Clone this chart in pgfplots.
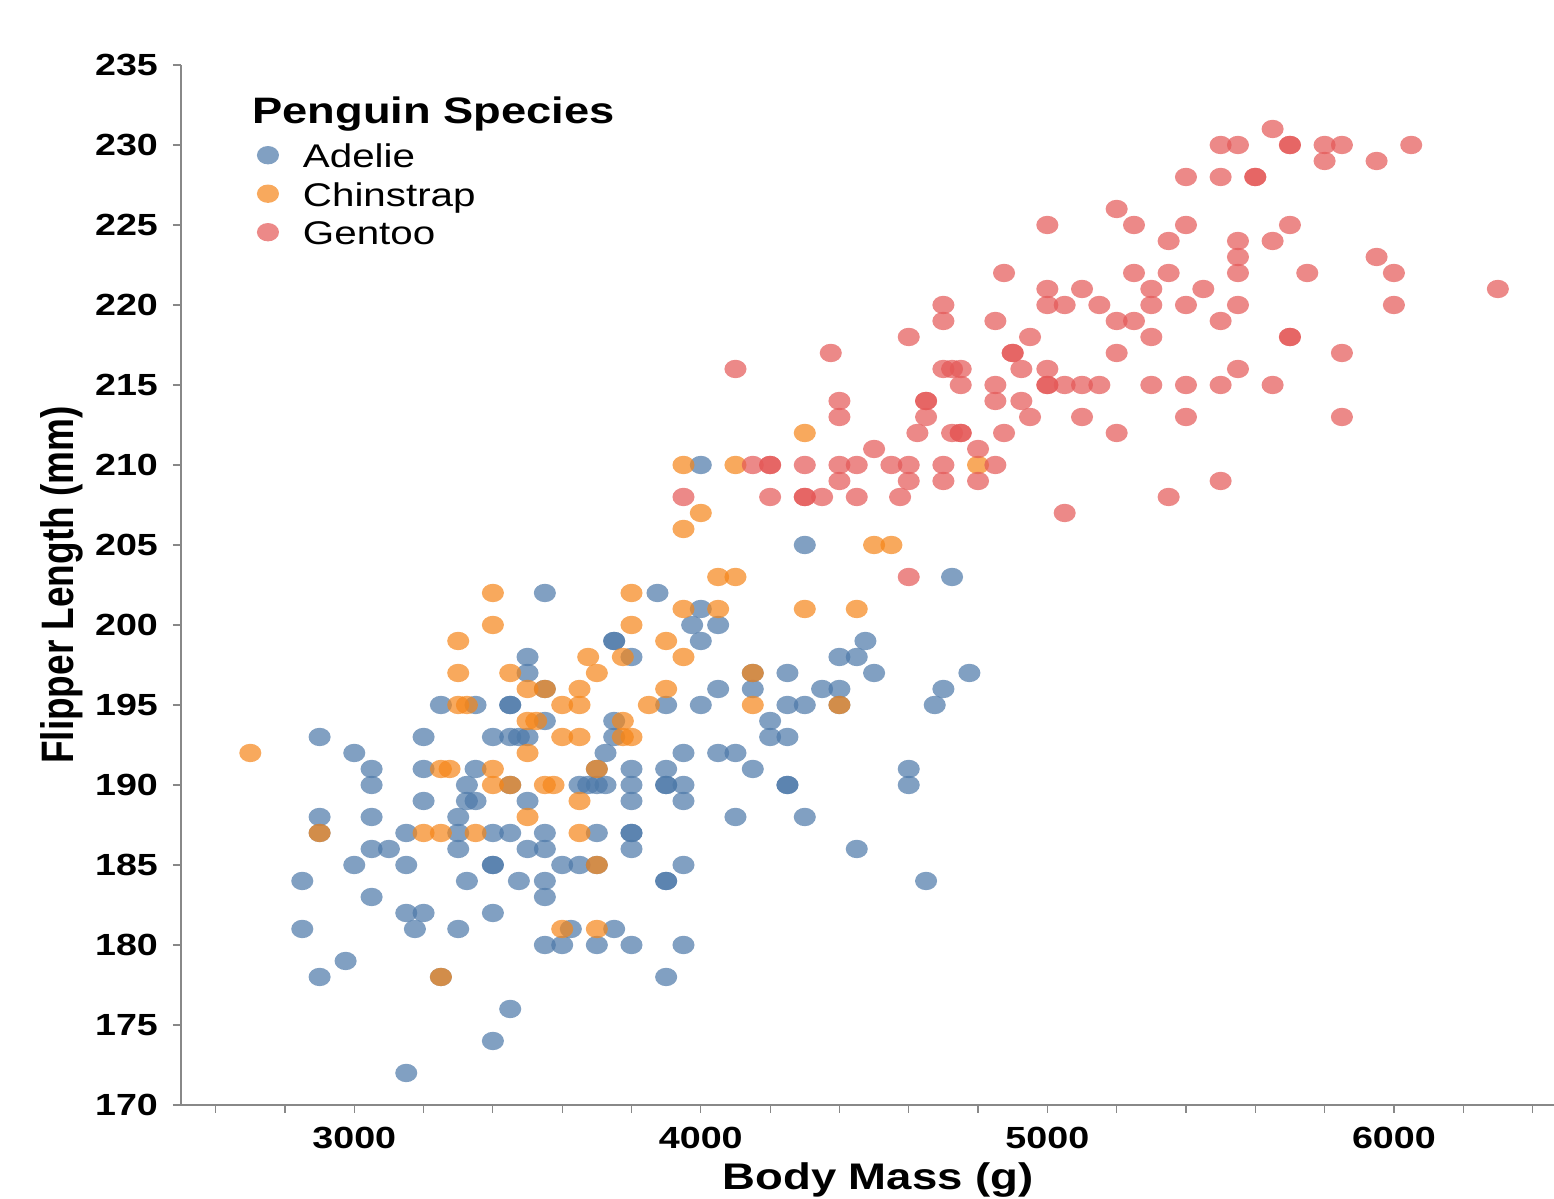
\documentclass[border=0pt]{standalone}
\usepackage{fontspec}
\setmainfont{Liberation Sans}
\usepackage{graphicx}
\usepackage{pgfplots}
\pgfplotsset{compat=1.18}
\definecolor{adelie}{HTML}{4C78A8}
\definecolor{chin}{HTML}{F58518}
\definecolor{gentoo}{HTML}{E45756}
\definecolor{axgray}{HTML}{888888}
\newcommand{\sx}[1]{\scalebox{1.23}[1]{#1}}
\pgfdeclareplotmark{pell}{\pgfpathellipse{\pgfpointorigin}{\pgfqpoint{1.2\pgfplotmarksize}{0pt}}{\pgfqpoint{0pt}{\pgfplotmarksize}}\pgfusepathqfill}
\begin{document}
\begin{tikzpicture}
\begin{axis}[
 scale only axis, width=686.5pt, height=520pt,
 xmin=2500, xmax=6462, ymin=170, ymax=235,
 axis x line*=bottom, axis y line*=left,
 axis line style={draw=axgray, line width=0.6pt, -},
 tick align=outside, major tick length=4pt,
 tick style={draw=axgray, line width=0.6pt},
 xtick={2600,2800,...,6400},
 xticklabels={,,\sx{3000},,,,,\sx{4000},,,,,\sx{5000},,,,,\sx{6000},,},
 ytick={170,175,...,235},
 yticklabels={\sx{170},\sx{175},\sx{180},\sx{185},\sx{190},\sx{195},\sx{200},\sx{205},\sx{210},\sx{215},\sx{220},\sx{225},\sx{230},\sx{235}},
 tick label style={font=\fontsize{15.3}{18}\selectfont\bfseries},
 yticklabel style={xshift=-4pt},
 xticklabel style={yshift=-3.5pt},
 xlabel={\sx{Body Mass (g)}},
 ylabel={\scalebox{1}[1.23]{Flipper Length (mm)}},
 label style={font=\fontsize{18.5}{22}\selectfont\bfseries},
 xlabel style={at={(axis description cs:0.5077,-0.0817)}, anchor=base},
 ylabel style={at={(axis description cs:-0.0867,0.5)}, anchor=center},
 legend style={at={(rel axis cs:0.0546,0.9243)}, anchor=north west, draw=none, fill=none, inner sep=0pt, outer sep=0pt, font=\fontsize{16.4}{19}\selectfont, row sep=4.25pt, nodes={inner sep=0pt, text height=12pt, text depth=3pt}},
 legend cell align=left,
 legend image code/.code={\path[draw=none,fill=none] (0pt,-3.5pt) rectangle (23.5pt,7pt); \draw[#1] plot coordinates {(6pt,1.75pt)};},
]
\addplot[only marks, mark=pell, mark size=4.6pt, mark options={fill=adelie, fill opacity=0.7, draw=none}] coordinates {
(3150,172) (3400,174) (3450,176)
(2900,178) (3250,178) (3900,178) (2975,179)
(3550,180) (3600,180) (3700,180) (3800,180) (3950,180)
(2850,181) (3175,181) (3300,181) (3625,181) (3750,181)
(3150,182) (3200,182) (3400,182)
(3050,183) (3550,183)
(2850,184) (3325,184) (3475,184) (3550,184) (3900,184) (3900,184) (4650,184)
(3000,185) (3150,185) (3400,185) (3400,185) (3600,185) (3650,185) (3700,185) (3950,185)
(3050,186) (3100,186) (3300,186) (3500,186) (3550,186) (3800,186) (4450,186)
(2900,187) (3150,187) (3300,187) (3400,187) (3450,187) (3550,187) (3700,187) (3800,187) (3800,187)
(2900,188) (3050,188) (3300,188) (4100,188) (4300,188)
(3200,189) (3325,189) (3350,189) (3500,189) (3800,189) (3950,189)
(3050,190) (3325,190) (3450,190) (3650,190) (3675,190) (3700,190) (3725,190) (3800,190) (3900,190) (3900,190) (3950,190) (4250,190) (4250,190) (4600,190)
(3050,191) (3200,191) (3350,191) (3700,191) (3800,191) (3900,191) (4150,191) (4600,191)
(3000,192) (3725,192) (3950,192) (4050,192) (4100,192)
(2900,193) (3200,193) (3400,193) (3450,193) (3475,193) (3500,193) (3750,193) (4200,193) (4250,193)
(3550,194) (3750,194) (4200,194)
(3250,195) (3350,195) (3450,195) (3450,195) (3900,195) (4000,195) (4250,195) (4300,195) (4400,195) (4675,195)
(3550,196) (4050,196) (4150,196) (4350,196) (4400,196) (4700,196)
(3500,197) (4150,197) (4250,197) (4500,197) (4775,197)
(3500,198) (3800,198) (4400,198) (4450,198)
(3750,199) (3750,199) (4000,199) (4475,199)
(3975,200) (4050,200) (4000,201)
(3550,202) (3875,202) (4725,203) (4300,205) (4000,210)
};
\addlegendentry{\sx{Adelie}}
\addplot[only marks, mark=pell, mark size=4.6pt, mark options={fill=chin, fill opacity=0.7, draw=none}] coordinates {
(3250,178) (3600,181) (3700,181) (3700,185)
(2900,187) (3200,187) (3250,187) (3350,187) (3650,187)
(3500,188) (3650,189)
(3400,190) (3450,190) (3550,190) (3575,190)
(3250,191) (3275,191) (3400,191) (3700,191)
(2700,192) (3500,192)
(3600,193) (3650,193) (3775,193) (3800,193)
(3500,194) (3525,194) (3775,194)
(3300,195) (3325,195) (3600,195) (3650,195) (3850,195) (4150,195) (4400,195)
(3500,196) (3550,196) (3650,196) (3900,196)
(3300,197) (3450,197) (3700,197) (4150,197)
(3675,198) (3775,198) (3950,198)
(3300,199) (3900,199)
(3400,200) (3800,200)
(3950,201) (4050,201) (4300,201) (4450,201)
(3400,202) (3800,202)
(4050,203) (4100,203)
(4500,205) (4550,205) (3950,206) (4000,207)
(3950,210) (4100,210) (4800,210) (4300,212)
};
\addlegendentry{\sx{Chinstrap}}
\addplot[only marks, mark=pell, mark size=4.6pt, mark options={fill=gentoo, fill opacity=0.7, draw=none}] coordinates {
(4600,203) (5050,207)
(3950,208) (4200,208) (4300,208) (4300,208) (4350,208) (4450,208) (4575,208) (5350,208)
(4400,209) (4600,209) (4700,209) (4800,209) (5500,209)
(4150,210) (4200,210) (4200,210) (4300,210) (4400,210) (4450,210) (4550,210) (4600,210) (4700,210) (4850,210)
(4500,211) (4800,211)
(4625,212) (4725,212) (4750,212) (4750,212) (4875,212) (5200,212)
(4400,213) (4650,213) (4950,213) (5100,213) (5400,213) (5850,213)
(4400,214) (4650,214) (4650,214) (4850,214) (4925,214)
(4750,215) (4850,215) (5000,215) (5000,215) (5050,215) (5100,215) (5150,215) (5300,215) (5400,215) (5500,215) (5650,215)
(4100,216) (4700,216) (4725,216) (4750,216) (4925,216) (5000,216) (5550,216)
(4375,217) (4900,217) (4900,217) (5200,217) (5850,217)
(4600,218) (4950,218) (5300,218) (5700,218) (5700,218)
(4700,219) (4850,219) (5200,219) (5250,219) (5500,219)
(4700,220) (5000,220) (5050,220) (5150,220) (5300,220) (5400,220) (5550,220) (6000,220)
(5000,221) (5100,221) (5300,221) (5450,221) (6300,221)
(4875,222) (5250,222) (5350,222) (5550,222) (5750,222) (6000,222)
(5550,223) (5950,223)
(5350,224) (5550,224) (5650,224)
(5000,225) (5250,225) (5400,225) (5700,225)
(5200,226)
(5400,228) (5500,228) (5600,228) (5600,228)
(5800,229) (5950,229)
(5500,230) (5550,230) (5700,230) (5700,230) (5800,230) (5850,230) (6050,230)
(5650,231)
};
\addlegendentry{\sx{Gentoo}}
\node[anchor=base west, inner sep=0pt, font=\fontsize{18.4}{22}\selectfont\bfseries] at (rel axis cs:0.0517,0.9433) {\sx{Penguin Species}};
\coordinate (sw) at (rel axis cs:0,0);
\coordinate (ne) at (rel axis cs:1,1);
\end{axis}
\pgfresetboundingbox
\path[use as bounding box] ([shift={(-90.5pt,-47pt)}]sw) rectangle ([shift={(0pt,32.5pt)}]ne);
\end{tikzpicture}
\end{document}
